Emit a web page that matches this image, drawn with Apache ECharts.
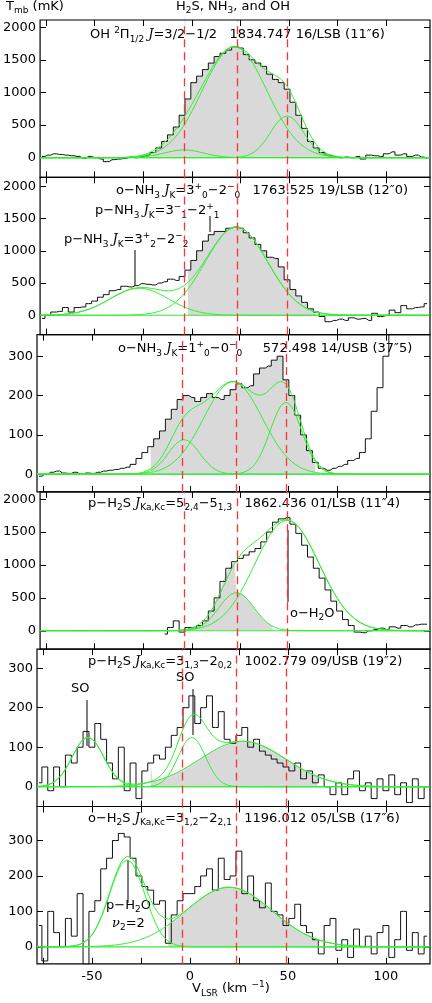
<!DOCTYPE html>
<html><head><meta charset="utf-8">
<script src="https://cdn.jsdelivr.net/npm/echarts@6/dist/echarts.min.js"></script>
<style>html,body{margin:0;padding:0;background:#fff}#main{width:432px;height:1003px}</style>
</head><body><div id="main"></div>
<script>
// channel velocities (km/s)
var vel = [];
for (var k = -77; k <= 121; k += 3) vel.push(k);

var ohSpec = [20,40,60,50,40,30,20,-10,20,0,-20,-60,-30,-20,-10,10,0,20,40,80,150,250,350,470,650,900,1150,1250,1350,1450,1550,1600,1650,1700,1680,1580,1500,1450,1400,1280,1200,1150,1050,850,650,450,250,150,80,40,20,0,10,0,20,-20,40,30,20,60,90,40,60,20,40,10,-10];
var nh3aSpec = [-50,0,50,60,120,50,120,130,180,220,280,320,380,400,450,440,460,490,480,470,500,520,560,540,600,700,850,1000,1150,1250,1300,1300,1350,1370,1350,1280,1200,1100,1000,900,880,750,550,400,300,200,100,50,-20,-100,-80,-60,-80,-40,-60,-50,-80,30,-20,0,80,40,150,100,120,130,180];
var nh3bSpec = [-5,0,5,8,3,2,5,0,3,2,5,8,10,12,15,18,25,40,55,70,90,110,140,165,190,200,195,185,195,205,195,190,200,215,230,220,225,255,270,275,290,300,240,200,150,100,60,30,15,10,15,20,25,35,40,55,90,160,220,300,360,400,400,400,400,400,400];
var h2saSpec = [null,null,null,null,null,null,null,null,null,null,null,null,null,null,null,null,null,null,null,null,null,-50,50,150,-20,50,40,80,150,300,500,750,950,1050,1100,1150,1200,1250,1350,1500,1650,1700,1720,1620,1480,1300,1120,950,800,620,450,300,170,80,-20,-30,0,20,40,20,60,40,80,60,90,100,100];
var h2sbSpec = [10,50,-10,50,0,80,60,100,140,100,160,120,60,20,100,-10,60,-30,40,60,80,70,100,130,150,200,230,160,200,230,150,190,120,110,130,150,100,120,90,80,70,60,50,40,60,20,40,10,30,0,-20,10,-20,20,40,-10,10,-30,20,-10,30,-20,10,-40,20,-30,0];
var h2scSpec = [60,-40,100,40,0,80,30,150,-50,100,130,220,250,300,320,310,250,200,170,160,120,130,10,90,130,150,150,170,200,220,160,250,190,200,270,150,200,130,110,180,100,90,60,80,120,60,40,20,-20,60,80,-10,20,-30,50,0,30,-20,40,60,-30,20,100,-10,40,-20,30];

// gaussian fit components: [amplitude mK, centre km/s, sigma km/s]
var ohFit = [[1700, 22, 16.6], [120, -4, 10], [640, 49, 8.5]];
var nh3aFit = [[1370, 23, 16], [420, -27, 15]];
var nh3bFit = [[88, -3, 8], [235, 22, 15], [183, 49, 8]];
var h2saFit = [[580, 23, 9], [1680, 49, 16.5]];
var h2sbFit = [[125, -52, 8], [125, 1, 7], [115, 27, 22]];
var h2scFit = [[245, -32, 9], [168, 20, 22]];

var yTicksBig = [0, 500, 1000, 1500, 2000];
var yTicksSmall = [0, 100, 200, 300];
var xTicks = [-50, 0, 50, 100];
var refVel = [-4, 23.5, 49];

// fill: [from, to] under spectrum, then optionally under fit component `fillFit` up to `fillEnd`
var panels = [
  {spec: ohSpec, fit: ohFit, min: -300, max: 2110, ticks: yTicksBig, fill: [-20, 70], fillFit: -1},
  {spec: nh3aSpec, fit: nh3aFit, min: -300, max: 2140, ticks: yTicksBig, fill: [-4, 66], fillFit: -1},
  {spec: nh3bSpec, fit: nh3bFit, min: -45, max: 355, ticks: yTicksSmall, fill: [-22, 66], fillFit: -1},
  {spec: h2saSpec, fit: h2saFit, min: -280, max: 2110, ticks: yTicksBig, fill: [-2, 22], fillFit: 0, fillEnd: 42},
  {spec: h2sbSpec, fit: h2sbFit, min: -50, max: 348, ticks: yTicksSmall, fill: [-20, -20], fillFit: 2, fillEnd: 65},
  {spec: h2scSpec, fit: h2scFit, min: -48, max: 396, ticks: yTicksSmall, fill: [-12, -12], fillFit: 1, fillEnd: 65}
];

var GREEN = '#33ee33', FONT = 'DejaVu Sans';
var fine = [];
for (var f = -78; f <= 122; f += 1) fine.push(f);
function gauss(p, x) { return p[0] * Math.exp(-(x - p[1]) * (x - p[1]) / (2 * p[2] * p[2])); }
var plain = function(v) { return String(v); };

var grids = [], xAxes = [], yAxes = [], series = [];
var pTop = 20, pH = 157.3;
var xTickAll = [-75,-50,-25,0,25,50,75,100];
panels.forEach(function(p, i) {
  grids.push({left: 37, right: 2, top: pTop + i * pH, height: pH, show: true, borderColor: '#000', borderWidth: 1.2, backgroundColor: 'transparent'});
  xAxes.push({type: 'value', gridIndex: i, min: -78, max: 122.5,
    axisLine: {show: false, onZero: false}, splitLine: {show: false},
    axisTick: {inside: true, length: 6, customValues: xTickAll, lineStyle: {color: '#000'}},
    axisLabel: {show: i == 5, customValues: xTicks, formatter: plain, fontFamily: FONT, fontSize: 13, color: '#000', margin: 6}});
  xAxes.push({type: 'value', gridIndex: i, min: -78, max: 122.5, position: 'top',
    axisLine: {show: false, onZero: false}, splitLine: {show: false}, axisLabel: {show: false},
    axisTick: {inside: true, length: 6, customValues: xTickAll, lineStyle: {color: '#000'}}});
  yAxes.push({type: 'value', gridIndex: i, min: p.min, max: p.max,
    axisLine: {show: false, onZero: false}, splitLine: {show: false},
    axisTick: {inside: true, length: 6, customValues: p.ticks, lineStyle: {color: '#000'}},
    axisLabel: {customValues: p.ticks, formatter: plain, fontFamily: FONT, fontSize: 13, color: '#000', margin: 4}});
  yAxes.push({type: 'value', gridIndex: i, min: p.min, max: p.max, position: 'right',
    axisLine: {show: false, onZero: false}, splitLine: {show: false}, axisLabel: {show: false},
    axisTick: {inside: true, length: 6, customValues: p.ticks, lineStyle: {color: '#000'}}});
  var xi = i * 2, yi = i * 2;
  var specData = vel.map(function(v, j) { return [v, p.spec[j]]; }).filter(function(d) { return d[1] !== null; });
  // grey fill
  var fillData = specData.filter(function(d) { return d[0] >= p.fill[0] && d[0] <= p.fill[1]; });
  if (p.fillFit < 0) {
    series.push({type: 'line', xAxisIndex: xi, yAxisIndex: yi, step: 'middle', symbol: 'none', silent: true,
      lineStyle: {width: 0}, areaStyle: {color: '#d9d9d9', opacity: 1}, data: fillData});
  } else {
    var start = p.fill[1];
    var gpart = fine.filter(function(x) { return x > start && x <= p.fillEnd; }).map(function(x) { return [x, gauss(p.fit[p.fillFit], x)]; });
    series.push({type: 'line', xAxisIndex: xi, yAxisIndex: yi, symbol: 'none', silent: true,
      lineStyle: {width: 0}, areaStyle: {color: '#d9d9d9', opacity: 1},
      data: fillData.concat(gpart)});
  }
  // spectrum
  series.push({type: 'line', xAxisIndex: xi, yAxisIndex: yi, step: 'middle', symbol: 'none', clip: true,
    lineStyle: {color: '#111', width: 1}, data: specData,
    markLine: {silent: true, symbol: 'none', label: {show: false},
      lineStyle: {color: '#ff3333', type: [8, 5], width: 1.3},
      data: refVel.map(function(v) { return {xAxis: v}; })}});
  // baseline and fits
  series.push({type: 'line', xAxisIndex: xi, yAxisIndex: yi, symbol: 'none', lineStyle: {color: GREEN, width: 1.2},
    data: [[specData[0][0], 0], [122.5, 0]]});
  p.fit.forEach(function(c) {
    series.push({type: 'line', xAxisIndex: xi, yAxisIndex: yi, symbol: 'none', lineStyle: {color: GREEN, width: 1},
      data: fine.map(function(x) { return [x, gauss(c, x)]; })});
  });
  if (p.fit.length > 1) {
    series.push({type: 'line', xAxisIndex: xi, yAxisIndex: yi, symbol: 'none', lineStyle: {color: GREEN, width: 1},
      data: fine.map(function(x) { var s = 0; p.fit.forEach(function(c) { s += gauss(c, x); }); return [x, s]; })});
  }
});

var rich = {
  n: {fontFamily: FONT, fontSize: 13, color: '#000', lineHeight: 18, verticalAlign: 'middle'},
  i: {fontFamily: 'DejaVu Serif', fontStyle: 'italic', fontSize: 13, color: '#000', lineHeight: 18, verticalAlign: 'middle'},
  b: {fontFamily: FONT, fontSize: 9, color: '#000', lineHeight: 18, verticalAlign: 'bottom'},
  p: {fontFamily: FONT, fontSize: 9, color: '#000', lineHeight: 18, verticalAlign: 'top'}
};
function txt(x, y, s) {
  return {type: 'text', left: x, top: y, style: {text: s, rich: rich, fill: '#000', font: '13px ' + FONT}};
}
function tick(x, y1, y2) {
  return {type: 'line', shape: {x1: x, y1: y1, x2: x, y2: y2}, style: {stroke: '#000', lineWidth: 1}};
}

var option = {
  animation: false,
  grid: grids, xAxis: xAxes, yAxis: yAxes, series: series,
  graphic: [
    txt(6, 0, '{n|T}{b|mb}{n| (mK)}'),
    txt(176, 0, '{n|H}{b|2}{n|S, NH}{b|3}{n|, and OH}'),
    txt(90, 26, '{n|OH }{p|2}{n|Π}{b|1/2}{n| }{i|J}{n|=3/2−1/2   1834.747 16/LSB (11″6)}'),
    txt(116, 182, '{n|o−NH}{b|3}{n| }{i|J}{b|K}{n|=3}{p|+}{b|0}{n|−2}{p|−}{b|0}{n|   1763.525 19/LSB (12″0)}'),
    txt(95, 202, '{n|p−NH}{b|3}{n| }{i|J}{b|K}{n|=3}{p|−}{b|1}{n|−2}{p|+}{b|1}'),
    txt(64, 231, '{n|p−NH}{b|3}{n| }{i|J}{b|K}{n|=3}{p|+}{b|2}{n|−2}{p|−}{b|2}'),
    tick(135, 250, 286), tick(210, 216, 232),
    txt(118, 340, '{n|o−NH}{b|3}{n| }{i|J}{b|K}{n|=1}{p|+}{b|0}{n|−0}{p|−}{b|0}{n|     572.498 14/USB (37″5)}'),
    txt(88, 497, '{n|p−H}{b|2}{n|S }{i|J}{b|Ka,Kc}{n|=5}{b|2,4}{n|−5}{b|1,3}{n|   1862.436 01/LSB (11″4)}'),
    txt(290, 607, '{n|o−H}{b|2}{n|O}'), tick(288, 530, 602),
    txt(88, 655, '{n|p−H}{b|2}{n|S }{i|J}{b|Ka,Kc}{n|=3}{b|1,3}{n|−2}{b|0,2}{n|   1002.779 09/USB (19″2)}'),
    txt(71, 682, '{n|SO}'), tick(87, 700, 746),
    txt(176, 671, '{n|SO}'), tick(193, 689, 735),
    txt(88, 812, '{n|o−H}{b|2}{n|S }{i|J}{b|Ka,Kc}{n|=3}{b|1,2}{n|−2}{b|2,1}{n|   1196.012 05/LSB (17″6)}'),
    txt(106, 899, '{n|p−H}{b|2}{n|O}'),
    txt(112, 917, '{i|ν}{b|2}{n|=2}'), tick(128, 860, 903),
    txt(192, 980, '{n|V}{b|LSR}{n| (km }{p|−1}{n|)}')
  ]
};
echarts.init(document.getElementById('main')).setOption(option);
</script></body></html>
